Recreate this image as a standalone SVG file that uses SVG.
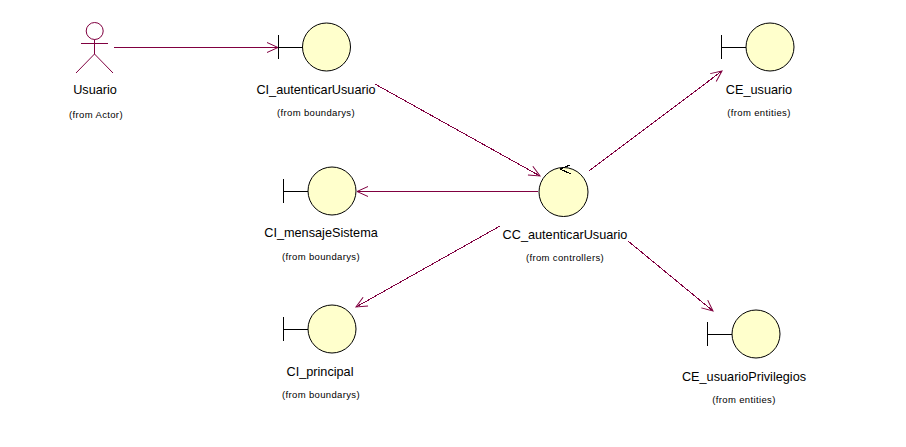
<svg xmlns="http://www.w3.org/2000/svg" width="906" height="447" viewBox="0 0 906 447">
<defs>
<marker id="open" markerUnits="userSpaceOnUse" markerWidth="14" markerHeight="14" refX="12" refY="7" orient="auto" viewBox="0 0 14 14">
<path d="M1 2 L12 7 L1 12" fill="none" stroke="#800040" stroke-width="1"/>
</marker>
<g id="boundary"><path d="M-48.500 -12 V12 M-48.500 0.500 H-24" class="k"/><circle r="24" class="b"/></g>
</defs>
<style>
.k{fill:none;stroke:#000;stroke-width:1;shape-rendering:crispEdges}
.b{fill:#ffffcc;stroke:#000;stroke-width:1}
.c{fill:none;stroke:#800040;stroke-width:1;marker-end:url(#open);shape-rendering:crispEdges}
.a{fill:none;stroke:#800040;stroke-width:1}
text{font-family:"Liberation Sans",Arial,sans-serif;text-anchor:middle;fill:#000}
.n{font-size:12.700px}
.f{font-size:9.500px;letter-spacing:.35px}
</style>
<rect width="906" height="447" fill="#fff"/>
<g id="connectors">
<path class="c" d="M114 47.500 H278"/>
<path class="c" d="M375 84 L540 176"/>
<path class="c" d="M538 191.500 H357"/>
<path class="c" d="M500 226 L356 307"/>
<path class="c" d="M589 171 L722 71"/>
<path class="c" d="M628 241 L713 311"/>
</g>
<g id="Usuario">
<circle class="a" cx="94.700" cy="31" r="8.500"/>
<path class="a" d="M81 43.500 H108 M94.500 39.500 V54 M76 73 L94.500 54 L113 73"/>
<text class="n" x="95" y="94">Usuario</text>
<text class="f" x="96" y="118">(from Actor)</text>
</g>
<g id="CI_autenticarUsuario">
<use href="#boundary" x="326.500" y="47"/>
<text class="n" x="316" y="94">CI_autenticarUsuario</text>
<text class="f" x="316" y="116">(from boundarys)</text>
</g>
<g id="CE_usuario">
<use href="#boundary" x="770" y="47"/>
<text class="n" x="759" y="94">CE_usuario</text>
<text class="f" x="759" y="116">(from entities)</text>
</g>
<g id="CI_mensajeSistema">
<use href="#boundary" x="332" y="191"/>
<text class="n" x="321" y="237">CI_mensajeSistema</text>
<text class="f" x="321" y="260">(from boundarys)</text>
</g>
<g id="CC_autenticarUsuario">
<circle class="b" cx="563.500" cy="192" r="24.500"/>
<path class="k" d="M570 165 L560 169 L571 174"/>
<text class="n" x="565" y="239">CC_autenticarUsuario</text>
<text class="f" x="565" y="261">(from controllers)</text>
</g>
<g id="CI_principal">
<use href="#boundary" x="332" y="329"/>
<text class="n" x="320" y="376">CI_principal</text>
<text class="f" x="321" y="398">(from boundarys)</text>
</g>
<g id="CE_usuarioPrivilegios">
<use href="#boundary" x="756" y="334"/>
<text class="n" x="744" y="381">CE_usuarioPrivilegios</text>
<text class="f" x="744" y="403">(from entities)</text>
</g>
</svg>
